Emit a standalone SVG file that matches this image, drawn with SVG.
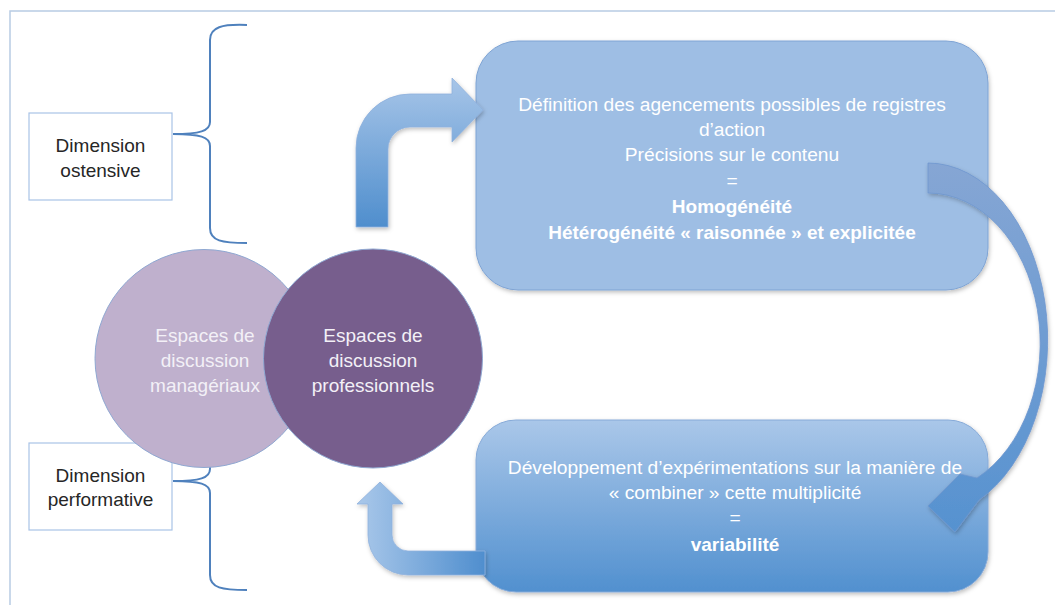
<svg xmlns="http://www.w3.org/2000/svg" width="1055" height="605" viewBox="0 0 1055 605">
<defs>
<style>
.frame{fill:#ffffff;stroke:#B8CCE4;stroke-width:1.5}
.dim{fill:#ffffff;stroke:#A9C3E6;stroke-width:1.2}
.dimtxt{font-family:"Liberation Sans",Arial,sans-serif;font-size:19px;fill:#262626;text-anchor:middle}
.brace{fill:none;stroke:#4F81BD;stroke-width:2}
.ctxt{font-family:"Liberation Sans",Arial,sans-serif;font-size:19px;fill:#F3F0F7;text-anchor:middle}
.btxt{font-family:"Liberation Sans",Arial,sans-serif;font-size:19.2px;fill:#FFFFFF;text-anchor:middle}
.bold{font-weight:bold;font-size:19px}
</style>
<linearGradient id="gBot" x1="0" y1="0" x2="0" y2="1">
<stop offset="0" stop-color="#AAC7E9"/>
<stop offset="1" stop-color="#5190CF"/>
</linearGradient>
<linearGradient id="gUp" x1="0" y1="78" x2="0" y2="227" gradientUnits="userSpaceOnUse">
<stop offset="0" stop-color="#A7C5E8"/>
<stop offset="1" stop-color="#4F8ECD"/>
</linearGradient>
<linearGradient id="gRet" x1="357" y1="0" x2="485" y2="0" gradientUnits="userSpaceOnUse">
<stop offset="0" stop-color="#AAC8EA"/>
<stop offset="1" stop-color="#4F8ECE"/>
</linearGradient>
<linearGradient id="gCurve" x1="0" y1="163" x2="0" y2="532" gradientUnits="userSpaceOnUse">
<stop offset="0" stop-color="#86A6D4"/>
<stop offset="1" stop-color="#5692D0"/>
</linearGradient>
<filter id="sh" x="-10%" y="-10%" width="120%" height="130%">
<feDropShadow dx="1" dy="2" stdDeviation="2" flood-color="#000" flood-opacity="0.25"/>
</filter>
</defs>

<rect class="frame" x="10" y="11" width="1060" height="610"/>

<g id="brace-top">
<path class="brace" d="M247,25 C222,24 210,27 210,40 L210,122 C210,131 200,134 173,134 C200,134 210,137 210,146 L210,228 C210,241 222,243 247,243"/>
</g>
<g id="brace-bottom">
<path class="brace" d="M247,372 C222,371 210,374 210,387 L210,469 C210,478 200,481 173,481 C200,481 210,484 210,493 L210,575 C210,588 222,590 247,590"/>
</g>

<g id="dim-ostensive">
<rect class="dim" x="29" y="113" width="143" height="87"/>
<text class="dimtxt" x="100.5" y="152">Dimension</text>
<text class="dimtxt" x="100.5" y="177">ostensive</text>
</g>
<g id="dim-performative">
<rect class="dim" x="29" y="443" width="143" height="87"/>
<text class="dimtxt" x="100.5" y="482">Dimension</text>
<text class="dimtxt" x="100.5" y="506">performative</text>
</g>

<g id="circle-manageriaux">
<circle cx="204" cy="358.5" r="109" fill="#BFB0CD" stroke="#8FA8D2" stroke-width="1"/>
<text class="ctxt" x="205" y="342">Espaces de</text>
<text class="ctxt" x="205" y="367">discussion</text>
<text class="ctxt" x="205" y="392">managériaux</text>
</g>
<g id="circle-professionnels">
<circle cx="373" cy="358.5" r="109.5" fill="#775E8D" stroke="#8FA8D2" stroke-width="1"/>
<text class="ctxt" x="373" y="342">Espaces de</text>
<text class="ctxt" x="373" y="367">discussion</text>
<text class="ctxt" x="373" y="392">professionnels</text>
</g>

<g id="box-top">
<rect x="476" y="41" width="512" height="249" rx="42" fill="#9EBEE4" stroke="#7FA4D4" stroke-width="1" filter="url(#sh)"/>
<text class="btxt" x="732" y="111">Définition des agencements possibles de registres</text>
<text class="btxt" x="732" y="136">d’action</text>
<text class="btxt" x="732" y="161">Précisions sur le contenu</text>
<text class="btxt" x="732" y="187">=</text>
<text class="btxt bold" x="732" y="213">Homogénéité</text>
<text class="btxt bold" x="732" y="239">Hétérogénéité « raisonnée » et explicitée</text>
</g>

<g id="box-bottom">
<rect x="476" y="420" width="512" height="172" rx="40" fill="url(#gBot)" stroke="#86AAD8" stroke-width="1" filter="url(#sh)"/>
<text class="btxt" x="735" y="474" fill="#F2F6FB">Développement d’expérimentations sur la manière de</text>
<text class="btxt" x="735" y="499">« combiner » cette multiplicité</text>
<text class="btxt" x="735" y="524">=</text>
<text class="btxt bold" x="735" y="551">variabilité</text>
</g>

<g id="connectors">
<path d="M356,227 L356,148 A54,54 0 0 1 410,94 L452,94 L452,78 L483,110 L452,142 L452,127 L410,127 A22,22 0 0 0 388,149 L388,227 Z" fill="url(#gUp)" stroke="#8FB1DD" stroke-width="0.8" filter="url(#sh)"/>
<path d="M928,163 A120,177 0 0 1 979,500 L955,532 L928,506 L960,474 L977,478 A112,150 0 0 0 928,193 Z" fill="url(#gCurve)" stroke="#6F97CF" stroke-width="0.8" filter="url(#sh)"/>
<path d="M485,551 L408,551 A16,16 0 0 1 392,535 L392,504 L403,504 L380,482 L357,504 L368,504 L368,535 A40,40 0 0 0 408,575 L485,575 Z" fill="url(#gRet)" stroke="#8FB1DD" stroke-width="0.8" filter="url(#sh)"/>
</g>
</svg>
